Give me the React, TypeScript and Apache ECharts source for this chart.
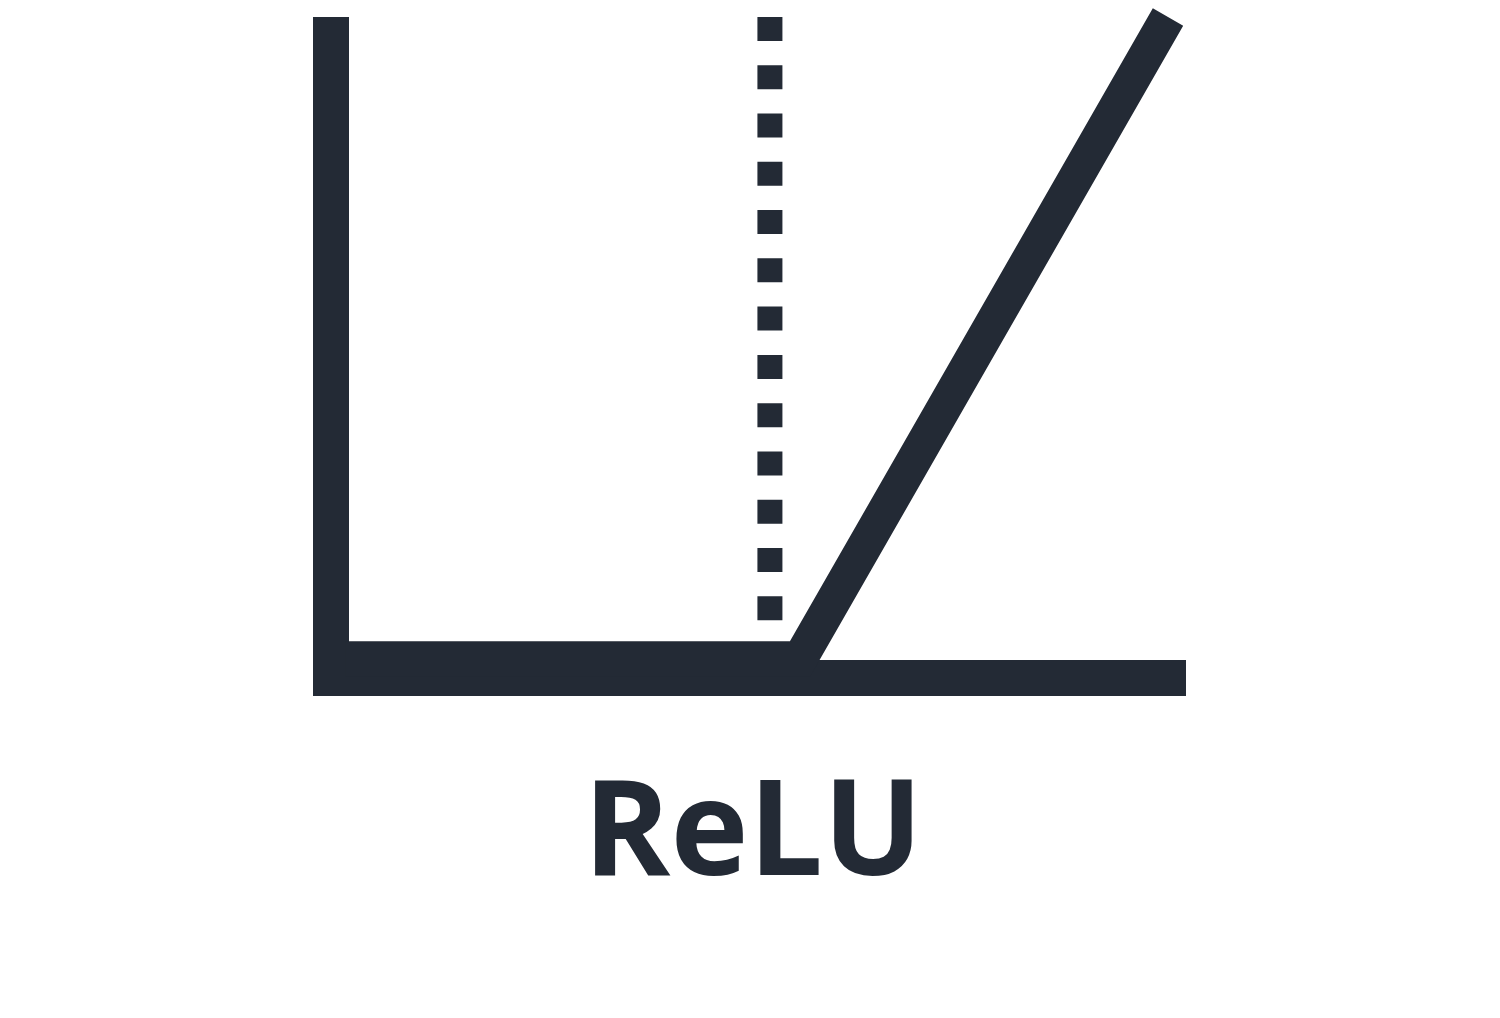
import React, { useEffect, useRef } from "react";
import * as echarts from "echarts";

const INK = "#232a35";

// ReLU function samples: y = max(0, x)
const reluX = [-1.235, 0, 1];
const reluY = [0, 0, 1];

// threshold marker (dotted vertical)
const thresholdX = -0.082;
const thresholdY = [1, 0.06];

const xRange = [-1.275, 1];
const yRange = [-0.03, 1];

const labelText = "ReLU";

export default function App() {
  const ref = useRef<HTMLDivElement>(null);
  useEffect(() => {
    document.body.style.margin = "0";
    const chart = echarts.init(ref.current!, null, { renderer: "svg" });
    chart.setOption({
      animation: false,
      backgroundColor: "#ffffff",
      grid: { left: 331, top: 17, width: 837, height: 661, containLabel: false },
      xAxis: {
        type: "value",
        min: xRange[0],
        max: xRange[1],
        axisLine: { show: true, onZero: false, lineStyle: { color: INK, width: 36, cap: "square" } },
        axisTick: { show: false },
        axisLabel: { show: false },
        splitLine: { show: false },
      },
      yAxis: {
        type: "value",
        min: yRange[0],
        max: yRange[1],
        axisLine: { show: true, onZero: false, lineStyle: { color: INK, width: 36, cap: "butt" } },
        axisTick: { show: false },
        axisLabel: { show: false },
        splitLine: { show: false },
      },
      series: [
        {
          type: "line",
          data: reluX.map((x, i) => [x, reluY[i]]),
          symbol: "none",
          clip: false,
          lineStyle: { color: INK, width: 35, cap: "butt", join: "miter" },
        },
        {
          type: "line",
          data: thresholdY.map((y) => [thresholdX, y]),
          symbol: "none",
          clip: false,
          lineStyle: { color: INK, width: 25, type: [24, 24.27], cap: "butt" },
        },
      ],
      graphic: [
        {
          type: "text",
          x: 753,
          y: 824,
          style: {
            text: labelText,
            fill: INK,
            font: "bold 132px 'Open Sans'",
            textAlign: "center",
            textVerticalAlign: "middle",
          },
        },
      ],
    });
    return () => chart.dispose();
  }, []);
  return <div ref={ref} style={{ width: 1500, height: 1018 }} />;
}
